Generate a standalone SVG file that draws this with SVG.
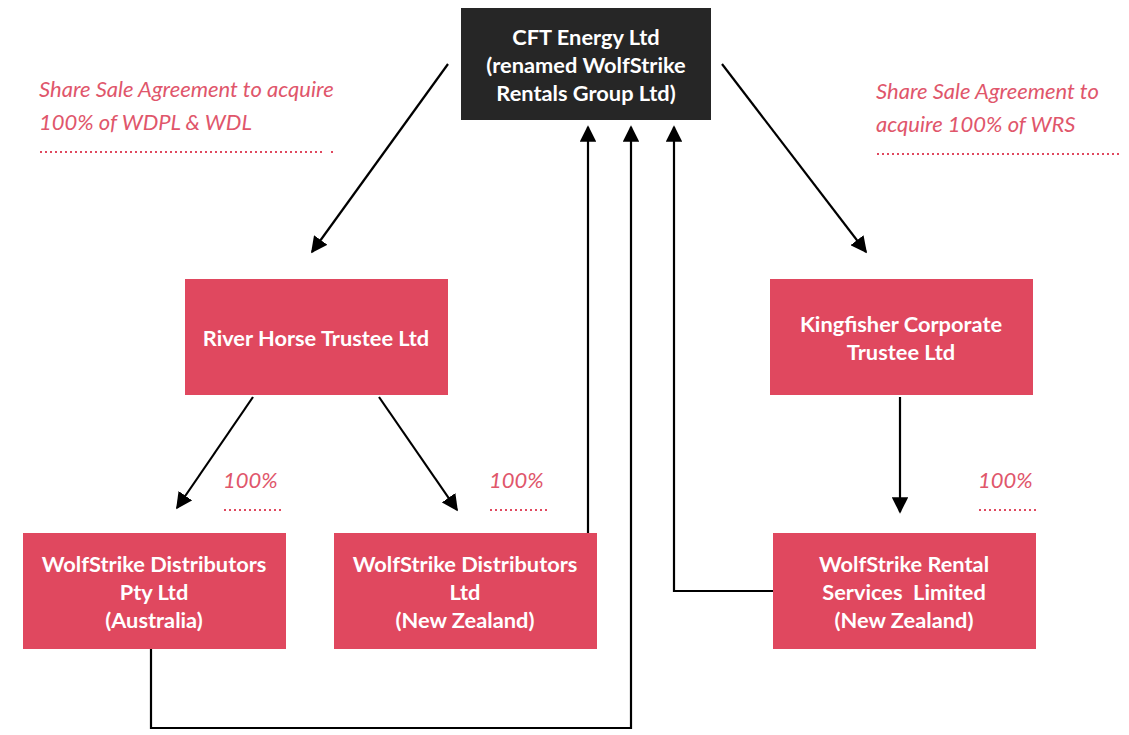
<svg xmlns="http://www.w3.org/2000/svg" width="1129" height="735" viewBox="0 0 1129 735">
<style>
.box{fill:#e0485f}
.dark{fill:#262626}
.t{font-family:Lato,"Liberation Sans",sans-serif;font-weight:bold;font-size:21.8px;fill:#fff;text-anchor:middle}
.lbl{font-family:Lato,"Liberation Sans",sans-serif;font-style:italic;font-size:22px;fill:#e0566b}
.dot{stroke:#e0485f;stroke-width:2;stroke-dasharray:2 3;fill:none}
.c{stroke:#000;stroke-width:2.2;fill:none}
</style>
<defs>
<marker id="ah" viewBox="0 0 10 10" refX="9" refY="5" markerWidth="7.5" markerHeight="7.5" markerUnits="strokeWidth" orient="auto">
<path d="M0,0 L10,5 L0,10 z" fill="#000"/>
</marker>
</defs>
<rect width="1129" height="735" fill="#fff"/>
<g id="connectors">
<line class="c" x1="448" y1="64" x2="312" y2="252" marker-end="url(#ah)"/>
<line class="c" x1="722" y1="64" x2="866" y2="252" marker-end="url(#ah)"/>
<line class="c" x1="253" y1="397" x2="177" y2="508" marker-end="url(#ah)"/>
<line class="c" x1="379" y1="397" x2="457" y2="510" marker-end="url(#ah)"/>
<line class="c" x1="900" y1="397" x2="900" y2="512" marker-end="url(#ah)"/>
<polyline class="c" points="588,533 588,127" marker-end="url(#ah)"/>
<polyline class="c" points="151,649 151,728 631,728 631,127" marker-end="url(#ah)"/>
<polyline class="c" points="773,591 674,591 674,127" marker-end="url(#ah)"/>
</g>
<g id="cft">
<rect class="dark" x="461" y="8" width="250" height="112"/>
<text class="t" x="586" y="45">CFT Energy Ltd</text>
<text class="t" x="586" y="73">(renamed WolfStrike</text>
<text class="t" x="586" y="101">Rentals Group Ltd)</text>
</g>
<g id="riverhorse">
<rect class="box" x="185" y="279" width="263" height="116"/>
<text class="t" x="316" y="346">River Horse Trustee Ltd</text>
</g>
<g id="kingfisher">
<rect class="box" x="770" y="279" width="263" height="116"/>
<text class="t" x="901" y="332">Kingfisher Corporate</text>
<text class="t" x="901" y="360">Trustee Ltd</text>
</g>
<g id="wdpl">
<rect class="box" x="23" y="533" width="263" height="116"/>
<text class="t" x="154" y="572">WolfStrike Distributors</text>
<text class="t" x="154" y="600">Pty Ltd</text>
<text class="t" x="154" y="628">(Australia)</text>
</g>
<g id="wdl">
<rect class="box" x="334" y="533" width="263" height="116"/>
<text class="t" x="465" y="572">WolfStrike Distributors</text>
<text class="t" x="465" y="600">Ltd</text>
<text class="t" x="465" y="628">(New Zealand)</text>
</g>
<g id="wrs">
<rect class="box" x="773" y="533" width="263" height="116"/>
<text class="t" x="904" y="572">WolfStrike Rental</text>
<text class="t" x="904" y="600" xml:space="preserve">Services  Limited</text>
<text class="t" x="904" y="628">(New Zealand)</text>
</g>
<g id="labels">
<text class="lbl" x="39" y="97">Share Sale Agreement to acquire</text>
<text class="lbl" x="39" y="130">100% of WDPL &amp; WDL</text>
<line class="dot" x1="40" y1="152" x2="324" y2="152"/>
<line class="dot" x1="331" y1="152" x2="334" y2="152" stroke-dasharray="none"/>
<text class="lbl" x="876" y="99">Share Sale Agreement to</text>
<text class="lbl" x="876" y="132">acquire 100% of WRS</text>
<line class="dot" x1="877" y1="154" x2="1119" y2="154"/>
<text class="lbl" x="223" y="488">100%</text>
<line class="dot" x1="224" y1="510" x2="284" y2="510"/>
<text class="lbl" x="489" y="488">100%</text>
<line class="dot" x1="490" y1="510" x2="548" y2="510"/>
<text class="lbl" x="978" y="488">100%</text>
<line class="dot" x1="979" y1="510" x2="1037" y2="510"/>
</g>
</svg>
